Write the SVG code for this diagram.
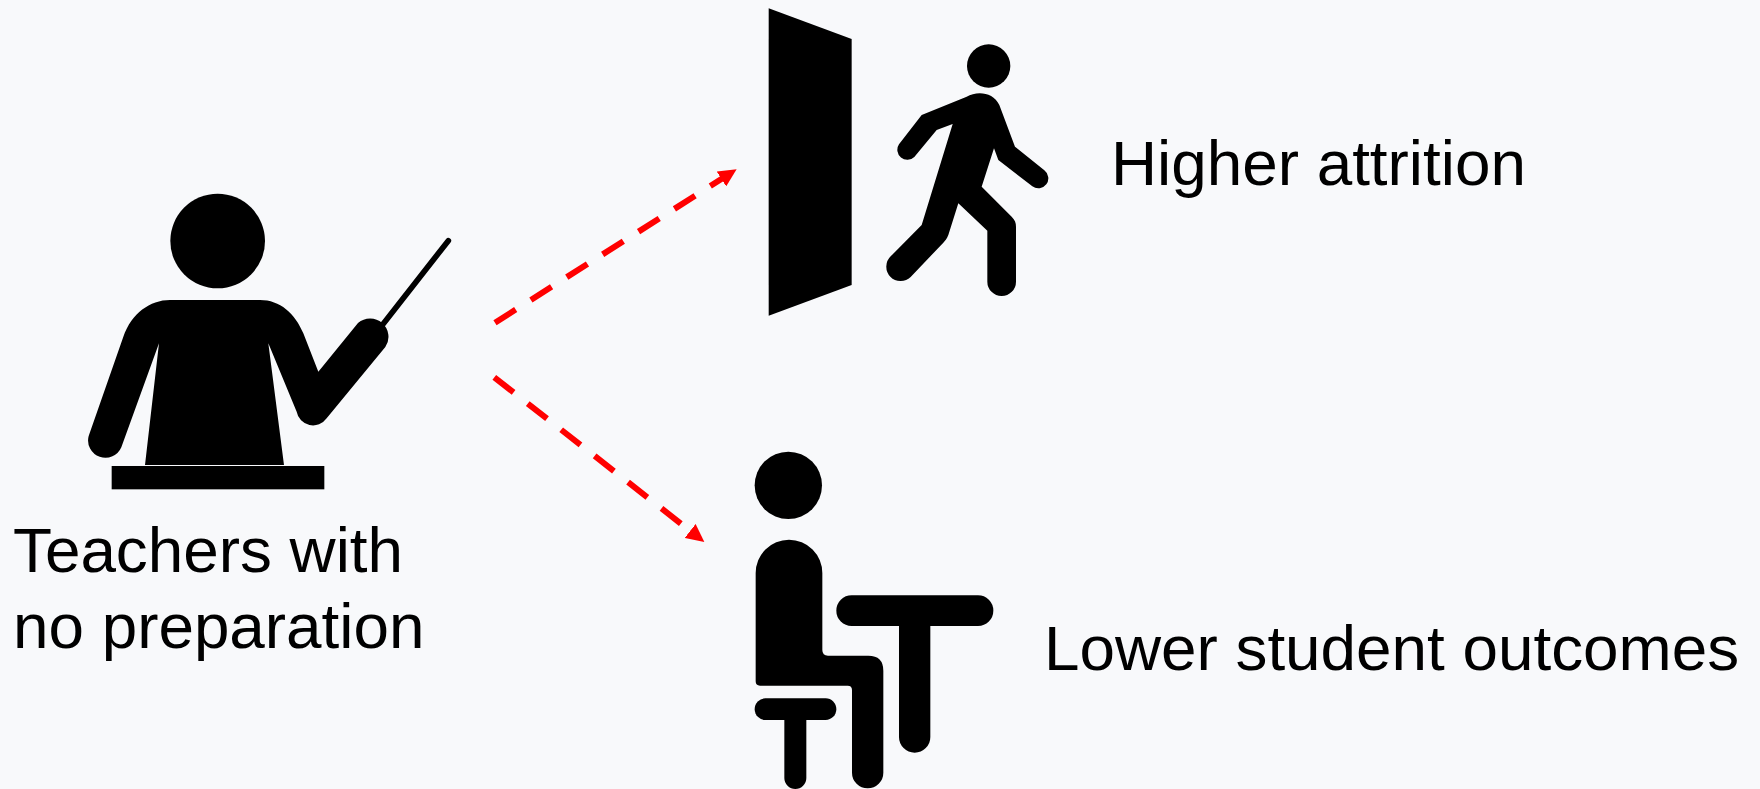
<svg xmlns="http://www.w3.org/2000/svg" width="1760" height="789" viewBox="0 0 1760 789">
<style>
text{font-family:"Liberation Sans",Arial,sans-serif;font-size:63.8px;fill:#000}
.i{fill:#000}
.c{fill:none;stroke:#f00;stroke-width:6;stroke-dasharray:24.5 18}
</style>
<defs>
<marker id="ah" markerUnits="userSpaceOnUse" markerWidth="18" markerHeight="18" refX="6" refY="9" orient="auto"><path d="M0 0.2L18 9L0 17.8Z" fill="#f00"/></marker>
</defs>
<rect width="1760" height="789" fill="#f8f9fb"/>
<g id="teacher" class="i" transform="translate(60 170) scale(.33333)">
<circle cx="473" cy="213" r="142"/>
<path d="M255 885L297 520L184 832A52 52 0 0 1 86 798L190 500C215 430 270 390 330 390H600C660 390 705 430 730 490L775 605L894 459A55 55 0 0 1 976 531L800 745A50 50 0 0 1 710 725L625 520L672 885Z"/>
<line x1="970" y1="461" x2="1165" y2="212" stroke="#000" stroke-width="17" stroke-linecap="round"/>
<rect x="155" y="888" width="638" height="70"/>
</g>
<g id="exit" class="i" transform="translate(740 0) scale(.33333)">
<path d="M86 25L335 117V855L86 947Z"/>
<circle cx="746" cy="198" r="65"/>
<path d="M545 345L680 290C710 272 760 275 778 315L825 440L913 511A30 30 0 0 1 877 559L775 480L762 445L725 560L815 650C825 660 828 668 828 680V845A43 43 0 0 1 742 845V692L655 610L625 705C620 718 615 722 610 728L512 831A43 43 0 0 1 452 769L545 675L638 372L590 390L523 471A30 30 0 0 1 477 433Z"/>
</g>
<g id="student" class="i" transform="translate(730 440) scale(.33333)">
<circle cx="175" cy="136" r="101"/>
<path d="M77 399A100 100 0 0 1 277 399V630Q277 647 294 647H415Q460 647 460 692V998A47 47 0 0 1 366 998V750Q366 737 353 737H90Q77 737 77 724Z"/>
<rect x="319" y="466" width="471" height="92" rx="46"/>
<path d="M507 550H601V891A47 47 0 0 1 507 891Z"/>
<rect x="74" y="775" width="245" height="65" rx="32"/>
<path d="M163 830H229V1014A33 33 0 0 1 163 1014Z"/>
</g>
<g id="connectors">
<path class="c" d="M495 322.7L726.5 175.8" marker-end="url(#ah)"/>
<path class="c" d="M494.3 377.3L694.9 534.6" marker-end="url(#ah)"/>
</g>
<g id="labels">
<text x="1111" y="184.500">Higher attrition</text>
<text x="1044" y="669.500">Lower student outcomes</text>
<text x="13" y="572">Teachers with</text>
<text x="13" y="648">no preparation</text>
</g>
</svg>
